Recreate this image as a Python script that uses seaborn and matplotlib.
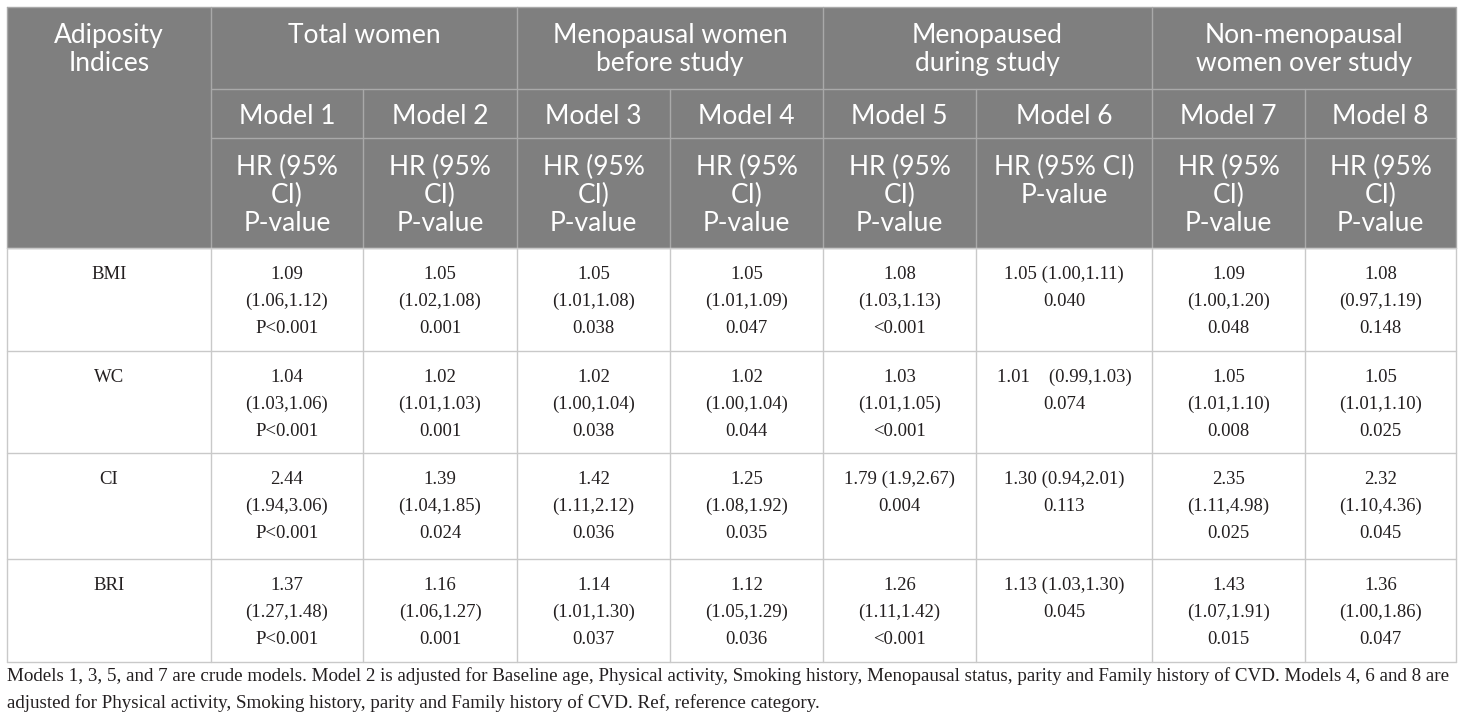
import matplotlib
matplotlib.use("Agg")
import matplotlib.pyplot as plt
from matplotlib.patches import Rectangle
import seaborn as sns

# ---------------- data ----------------
indices = ["BMI", "WC", "CI", "BRI"]
group_labels = ["Total women", "Menopausal women\nbefore study",
                "Menopaused\nduring study", "Non-menopausal\nwomen over study"]
group_span = [(0, 2), (2, 4), (4, 6), (6, 8)]
models = ["Model 1", "Model 2", "Model 3", "Model 4",
          "Model 5", "Model 6", "Model 7", "Model 8"]
stat_headers = ["HR (95%\nCI)\nP-value"] * 5 + ["HR (95% CI)\nP-value"] + ["HR (95%\nCI)\nP-value"] * 2
corner_label = "Adiposity\nIndices"

hr = [
    ["1.09", "1.04", "2.44", "1.37"],
    ["1.05", "1.02", "1.39", "1.16"],
    ["1.05", "1.02", "1.42", "1.14"],
    ["1.05", "1.02", "1.25", "1.12"],
    ["1.08", "1.03", "1.79", "1.26"],
    ["1.05", "1.01", "1.30", "1.13"],
    ["1.09", "1.05", "2.35", "1.43"],
    ["1.08", "1.05", "2.32", "1.36"],
]
ci = [
    ["(1.06,1.12)", "(1.03,1.06)", "(1.94,3.06)", "(1.27,1.48)"],
    ["(1.02,1.08)", "(1.01,1.03)", "(1.04,1.85)", "(1.06,1.27)"],
    ["(1.01,1.08)", "(1.00,1.04)", "(1.11,2.12)", "(1.01,1.30)"],
    ["(1.01,1.09)", "(1.00,1.04)", "(1.08,1.92)", "(1.05,1.29)"],
    ["(1.03,1.13)", "(1.01,1.05)", "(1.9,2.67)", "(1.11,1.42)"],
    ["(1.00,1.11)", "(0.99,1.03)", "(0.94,2.01)", "(1.03,1.30)"],
    ["(1.00,1.20)", "(1.01,1.10)", "(1.11,4.98)", "(1.07,1.91)"],
    ["(0.97,1.19)", "(1.01,1.10)", "(1.10,4.36)", "(1.00,1.86)"],
]
pval = [
    ["P<0.001", "P<0.001", "P<0.001", "P<0.001"],
    ["0.001", "0.001", "0.024", "0.001"],
    ["0.038", "0.038", "0.036", "0.037"],
    ["0.047", "0.044", "0.035", "0.036"],
    ["<0.001", "<0.001", "0.004", "<0.001"],
    ["0.040", "0.074", "0.113", "0.045"],
    ["0.048", "0.008", "0.025", "0.015"],
    ["0.148", "0.025", "0.045", "0.047"],
]
# HR and CI printed on one line in these cells (model index, row index) -> separator
inline_sep = {(5, 0): " ", (5, 1): "    ", (5, 2): " ", (5, 3): " ", (4, 2): " "}

footnote = [
    "Models 1, 3, 5, and 7 are crude models. Model 2 is adjusted for Baseline age, Physical activity, "
    "Smoking history, Menopausal status, parity and Family history of CVD. Models 4, 6 and 8 are",
    "adjusted for Physical activity, Smoking history, parity and Family history of CVD. Ref, reference category.",
]

# ---------------- layout ----------------
sns.set_theme(style="white")
HEAD_FONT = ["Lato", "DejaVu Sans"]
BODY_FONT = ["Liberation Serif", "DejaVu Serif"]

col_x = [7, 211, 363, 517, 670, 823, 976, 1152, 1305, 1456]
head_y = [7, 89, 138, 248]
row_y = [248, 351, 453, 559, 662]

HEAD_BG = "#7f7f7f"
HEAD_LINE = "#a9a9a9"
BODY_LINE = "#c9c9c9"
TXT = "#231f20"

fig = plt.figure(figsize=(14.6, 7.24), dpi=100)
ax = fig.add_axes([0, 0, 1, 1])
ax.set_xlim(0, 1460)
ax.set_ylim(724, 0)
ax.axis("off")

# header background
ax.add_patch(Rectangle((col_x[0], head_y[0]), col_x[-1] - col_x[0], head_y[-1] - head_y[0],
                       facecolor=HEAD_BG, edgecolor="none", zorder=1))

# header lines
lw = 1.0
ax.plot([col_x[0], col_x[-1], col_x[-1], col_x[0], col_x[0]],
        [head_y[0], head_y[0], head_y[-1], head_y[-1], head_y[0]], color=HEAD_LINE, lw=lw, zorder=2)
for y in head_y[1:3]:
    ax.plot([col_x[1], col_x[-1]], [y, y], color=HEAD_LINE, lw=lw, zorder=2)
for (a, b) in group_span:
    ax.plot([col_x[a + 1]] * 2, [head_y[0], head_y[-1]], color=HEAD_LINE, lw=lw, zorder=2)
for a, b in group_span:
    ax.plot([col_x[a + 2]] * 2, [head_y[1], head_y[-1]], color=HEAD_LINE, lw=lw, zorder=2)

# body lines
for y in row_y:
    ax.plot([col_x[0], col_x[-1]], [y, y], color=BODY_LINE, lw=lw, zorder=2)
for x in col_x:
    ax.plot([x, x], [row_y[0], row_y[-1]], color=BODY_LINE, lw=lw, zorder=2)

HFS = 19
HLS = 28


def head_text(xc, y0, s):
    for i, line in enumerate(s.split("\n")):
        ax.text(xc, y0 + i * HLS, line, ha="center", va="baseline", color="white",
                fontsize=HFS, family=HEAD_FONT, zorder=3)


head_text((col_x[0] + col_x[1]) / 2, 43, corner_label)
for g, (a, b) in zip(group_labels, group_span):
    head_text((col_x[a + 1] + col_x[b + 1]) / 2, 43, g)
for j, m in enumerate(models):
    head_text((col_x[j + 1] + col_x[j + 2]) / 2, 124, m)
for j, s in enumerate(stat_headers):
    head_text((col_x[j + 1] + col_x[j + 2]) / 2, 175, s)

BFS = 13.5
BLS = 27
for i, name in enumerate(indices):
    top = row_y[i]
    ax.text((col_x[0] + col_x[1]) / 2, top + 31, name, ha="center", va="baseline",
            color=TXT, fontsize=BFS, family=BODY_FONT, zorder=3)
    for j in range(len(models)):
        if (j, i) in inline_sep:
            lines = [hr[j][i] + inline_sep[(j, i)] + ci[j][i], pval[j][i]]
        else:
            lines = [hr[j][i], ci[j][i], pval[j][i]]
        xc = (col_x[j + 1] + col_x[j + 2]) / 2
        for k, line in enumerate(lines):
            ax.text(xc, top + 31 + k * BLS, line, ha="center", va="baseline",
                    color=TXT, fontsize=BFS, family=BODY_FONT, zorder=3)

# footnote, sized so the first line spans the table width
fn_lines = []
for k, line in enumerate(footnote):
    t = ax.text(col_x[0], 681 + k * 27.5, line, ha="left", va="baseline", color=TXT,
                fontsize=12, family=BODY_FONT)
    fn_lines.append(t)
fig.canvas.draw()
r = fig.canvas.get_renderer()
w = fn_lines[0].get_window_extent(renderer=r).width
fs = 12 * (col_x[-1] - col_x[0] - 6) / w
for t in fn_lines:
    t.set_fontsize(fs)

fig.savefig("out.png", dpi=100, facecolor="white")
